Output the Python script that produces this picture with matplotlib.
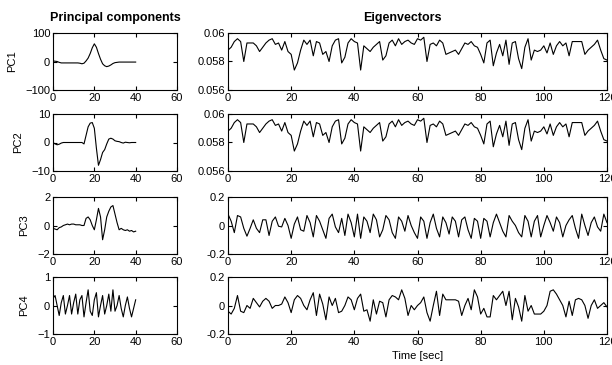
import matplotlib
matplotlib.use("Agg")
import matplotlib.pyplot as plt
import numpy as np

plt.rcParams['font.family'] = ['Liberation Sans', 'DejaVu Sans']
plt.rcParams['font.size'] = 8

# principal components, sampled 0..40
pc_t = list(range(41))
pc1 = [2, 1, 0, -3, -5, -5, -5, -5, -5, -5, -5, -5, -5, -6, -8, -6, 2, 12, 28, 48,
       62, 50, 28, 8, -8, -15, -18, -16, -12, -7, -4, -3, -2, -2, -2, -2, -2, -2, -2, -2, -2]
pc2 = [0, -0.5, -0.8, -0.6, -0.2, 0, 0, 0, 0, 0, 0, 0, 0, 0, 0, -0.5, 2.5, 5.5, 6.8, 7,
       5, -2, -8, -6, -3.5, -2.5, -0.5, 1.2, 1.5, 1.2, 0.6, 0.4, 0.3, 0, -0.2, 0.1, 0, -0.1, 0, 0, 0]
pc3 = [-0.2, -0.25, -0.3, -0.15, -0.1, 0.0, 0.05, 0.1, 0.05, 0.1, 0.1, 0.05, 0.05, 0.05, 0.0, 0.0,
       0.5, 0.6, 0.4, 0.0, -0.3, 0.4, 1.2, 0.6, -1.0, -0.3, 0.6, 1.0, 1.3, 1.4, 0.8, 0.2, -0.3,
       -0.2, -0.3, -0.35, -0.3, -0.4, -0.35, -0.45, -0.4]
pc4 = [0.25, 0.35, 0.0, -0.35, 0.1, 0.35, -0.3, 0.0, 0.35, -0.3, 0.1, 0.4, -0.3, 0.2, 0.35,
       -0.4, 0.1, 0.55, -0.2, -0.35, 0.2, 0.45, -0.4, 0.0, 0.35, -0.3, 0.0, 0.4, -0.2, 0.55,
       -0.2, 0.0, 0.35, -0.1, -0.4, 0.0, 0.3, -0.1, -0.4, -0.1, 0.2]

# eigenvectors, time 0..120 sec
ev_t = list(range(121))
ev1 = [0.0588, 0.0590, 0.0594, 0.0596, 0.0594, 0.0580, 0.0593, 0.0593, 0.0593, 0.0591,
       0.0587, 0.0590, 0.0593, 0.0595, 0.0596, 0.0592, 0.0593, 0.0588, 0.0594, 0.0587,
       0.0585, 0.0574, 0.0579, 0.0588, 0.0595, 0.0592, 0.0595, 0.0584, 0.0594, 0.0593,
       0.0585, 0.0587, 0.0580, 0.0591, 0.0595, 0.0596, 0.0579, 0.0583, 0.0593, 0.0596,
       0.0594, 0.0593, 0.0574, 0.0591, 0.0589, 0.0587, 0.0590, 0.0592, 0.0594, 0.0581,
       0.0584, 0.0593, 0.0595, 0.0591, 0.0596, 0.0592, 0.0594, 0.0595, 0.0593, 0.0592,
       0.0596, 0.0595, 0.0597, 0.0580, 0.0592, 0.0593, 0.0591, 0.0595, 0.0593, 0.0585,
       0.0586, 0.0587, 0.0588, 0.0585, 0.0589, 0.0593, 0.0592, 0.0594, 0.0591, 0.0590,
       0.0585, 0.0579, 0.0593, 0.0595, 0.0577, 0.0586, 0.0592, 0.0584, 0.0595, 0.0578,
       0.0593, 0.0594, 0.0582, 0.0575, 0.0590, 0.0596, 0.0581, 0.0588, 0.0587, 0.0588,
       0.0591, 0.0586, 0.0593, 0.0585, 0.0591, 0.0594, 0.0591, 0.0593, 0.0584, 0.0594,
       0.0594, 0.0594, 0.0594, 0.0585, 0.0588, 0.0590, 0.0592, 0.0595, 0.0588, 0.0582,
       0.0581]
ev2 = list(ev1)
ev3 = [0.08, 0.03, -0.05, 0.07, 0.06, -0.02, -0.075, -0.02, 0.04, -0.02,
       -0.05, 0.04, 0.04, -0.07, 0.03, 0.06, -0.005, -0.01, 0.05, 0.00,
       -0.09, 0.01, 0.06, -0.03, -0.04, 0.07, 0.02, -0.08, 0.07, 0.03,
       -0.03, -0.09, 0.05, 0.08, -0.01, -0.05, 0.05, -0.07, 0.08, 0.02,
       -0.08, 0.08, -0.09, 0.06, 0.03, -0.05, 0.08, 0.04, -0.08, -0.03,
       0.07, 0.04, -0.05, -0.09, 0.06, 0.03, -0.04, 0.07, 0.0, -0.05,
       -0.09, 0.06, 0.03, -0.09, 0.02, 0.08, -0.02, -0.08, 0.06, 0.02,
       -0.06, 0.06, 0.03, -0.08, 0.04, 0.06, -0.03, -0.09, 0.05, 0.03,
       -0.09, 0.05, 0.03, -0.08, 0.02, 0.08, 0.02, -0.04, -0.08, 0.07,
       0.03, 0.0, -0.05, -0.08, 0.07, 0.03, -0.08, 0.03, 0.07, -0.08,
       0.0, 0.07, 0.02, -0.04, 0.06, 0.02, -0.08, 0.0, 0.04, 0.07,
       -0.02, -0.09, 0.08, 0.0, -0.07, 0.02, 0.06, -0.01, -0.04, 0.08,
       0.02]
ev4 = [-0.04, -0.06, -0.02, 0.07, -0.04, -0.05, 0.00, -0.02, 0.05, 0.02,
       -0.01, 0.03, 0.05, 0.03, -0.02, 0.00, 0.00, 0.01, 0.06, 0.02,
       -0.05, 0.04, 0.07, 0.05, 0.00, -0.03, 0.04, 0.09, -0.07, 0.08,
       0.01, -0.10, 0.06, 0.00, 0.05, -0.05, -0.04, 0.00, 0.06, 0.04,
       -0.03, 0.05, 0.08, -0.04, -0.03, -0.11, 0.04, -0.06, 0.03, 0.02,
       -0.08, 0.04, 0.07, 0.06, 0.04, 0.11, 0.05, -0.07, 0.00, -0.03,
       0.00, 0.02, 0.06, -0.05, -0.11, 0.00, 0.10, -0.07, 0.08, 0.04,
       0.04, 0.04, 0.04, 0.03, -0.07, 0.00, 0.05, -0.03, 0.11, 0.06,
       -0.06, -0.02, -0.08, -0.08, 0.07, 0.04, 0.07, 0.10, 0.00, 0.10,
       -0.10, 0.05, -0.01, -0.11, 0.07, -0.04, 0.00, -0.06, -0.06, -0.06,
       -0.04, 0.00, 0.10, 0.11, 0.08, 0.04, 0.00, -0.08, 0.03, -0.07,
       0.04, 0.05, 0.04, 0.00, -0.09, 0.00, 0.04, -0.02, 0.00, 0.02,
       -0.01]

pc_series = [pc1, pc2, pc3, pc4]
pc_names = ['PC1', 'PC2', 'PC3', 'PC4']
pc_yticks = [[-100, 0, 100], [-10, 0, 10], [-2, 0, 2], [-1, 0, 1]]
ev_series = [ev1, ev2, ev3, ev4]
ev_yticks = [[0.056, 0.058, 0.06], [0.056, 0.058, 0.06], [-0.2, 0, 0.2], [-0.2, 0, 0.2]]

W, H = 612, 365
fig = plt.figure(figsize=(W / 100, H / 100), dpi=100)

row_tops = [33, 114, 197, 277]
row_h = 57


def matlab_style(ax):
    ax.tick_params(direction='in', length=3, top=True, right=True, pad=2, labelsize=8)
    for s in ax.spines.values():
        s.set_linewidth(0.8)


for i in range(4):
    top = row_tops[i]
    axl = fig.add_axes([53 / W, 1 - (top + row_h) / H, 124 / W, row_h / H])
    axl.plot(pc_t, pc_series[i], color='black', linewidth=0.8)
    axl.set_xlim(0, 60)
    axl.set_xticks([0, 20, 40, 60])
    lo, hi = pc_yticks[i][0], pc_yticks[i][-1]
    axl.set_ylim(lo, hi)
    axl.set_yticks(pc_yticks[i])
    axl.set_ylabel(pc_names[i], labelpad=6)
    matlab_style(axl)

    axr = fig.add_axes([228 / W, 1 - (top + row_h) / H, 379 / W, row_h / H])
    axr.plot(ev_t, ev_series[i], color='black', linewidth=0.8)
    axr.set_xlim(0, 120)
    axr.set_xticks([0, 20, 40, 60, 80, 100, 120])
    axr.set_ylim(ev_yticks[i][0], ev_yticks[i][-1])
    axr.set_yticks(ev_yticks[i])
    axr.set_yticklabels(['%g' % v for v in ev_yticks[i]])
    matlab_style(axr)
    if i == 3:
        axr.set_xlabel('Time [sec]', labelpad=3)

fig.text(115 / W, 1 - 18 / H, 'Principal components', ha='center', va='center',
         fontsize=9, fontweight='bold')
fig.text(402 / W, 1 - 18 / H, 'Eigenvectors', ha='center', va='center',
         fontsize=9, fontweight='bold')

fig.savefig('out.png', dpi=100)
